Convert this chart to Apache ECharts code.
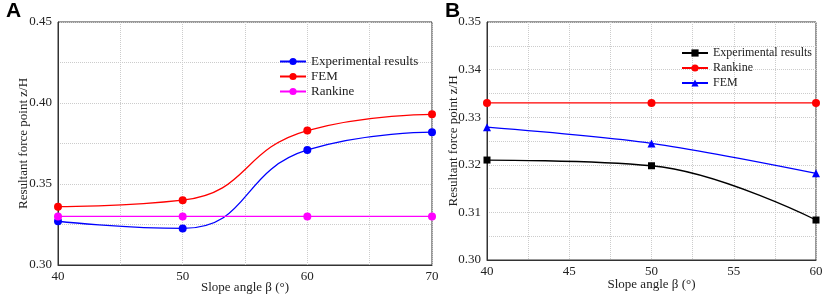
<!DOCTYPE html>
<html>
<head>
<meta charset="utf-8">
<script src="https://cdn.jsdelivr.net/npm/echarts@6/dist/echarts.min.js"></script>
<style>
  html, body { margin: 0; padding: 0; background: #fff; }
  #main { width: 823px; height: 294px; }
</style>
</head>
<body>
<div id="main"></div>
<script>
// panel A
const anglesA = [40, 50, 60, 70]
const expA = [0.327, 0.3226, 0.371, 0.382]
const femA = [0.336, 0.340, 0.383, 0.393]
const rankineA = [0.33, 0.33, 0.33, 0.33]

// panel B
const anglesB = [40, 50, 60]
const expB = [0.321, 0.3198, 0.3084]
const rankineB = [0.333, 0.333, 0.333]
const femB = [0.3279, 0.3245, 0.3182]

const font = 'Liberation Serif'
const pairs = (xs, ys) => xs.map((x, i) => [x, ys[i]])
const isStep = (v, step) => Math.abs(Math.round(v / step) * step - v) < 1e-7

function xAxis(grid, min, max, interval, labelStep, nameGap) {
  return {
    type: 'value', gridIndex: grid, min, max, interval,
    name: 'Slope angle β (°)', nameLocation: 'middle', nameGap, nameMoveOverlap: false,
    nameTextStyle: { fontFamily: font, fontSize: 13, color: '#222' },
    axisLine: { lineStyle: { color: '#333', width: 1 } },
    axisTick: { show: false },
    axisLabel: {
      fontFamily: font, fontSize: 13, color: '#222', margin: 5,
      formatter: v => (isStep(v, labelStep) ? String(Math.round(v)) : '')
    },
    splitLine: { show: true, lineStyle: { color: '#ccc', type: 'dotted' } }
  }
}

function yAxis(grid, min, max, interval, labelStep, nameGap) {
  return {
    type: 'value', gridIndex: grid, min, max, interval,
    name: 'Resultant force point z/H', nameLocation: 'middle', nameGap, nameMoveOverlap: false,
    nameTextStyle: { fontFamily: font, fontSize: 13, color: '#222' },
    axisLine: { show: true, lineStyle: { color: '#333', width: 1 } },
    axisTick: { show: false },
    axisLabel: {
      fontFamily: font, fontSize: 13, color: '#222', margin: 6,
      formatter: v => (isStep(v, labelStep) ? v.toFixed(2) : '')
    },
    splitLine: { show: true, lineStyle: { color: '#ccc', type: 'dotted' } }
  }
}

function line(name, data, color, symbol, axis, smooth) {
  return {
    name, type: 'line', xAxisIndex: axis, yAxisIndex: axis, data,
    smooth, symbol, symbolSize: symbol === 'rect' ? 7 : 8,
    lineStyle: { color, width: 1.3 },
    itemStyle: { color },
    animation: false
  }
}

const legendBase = {
  orient: 'vertical', itemWidth: 26, itemHeight: 9, padding: 0
}

const option = {
  animation: false,
  title: [
    { text: 'A', left: 1, top: -4, textStyle: { fontFamily: 'Liberation Sans', fontWeight: 'bold', fontSize: 21, color: '#000' } },
    { text: 'B', left: 440, top: -4, textStyle: { fontFamily: 'Liberation Sans', fontWeight: 'bold', fontSize: 21, color: '#000' } }
  ],
  grid: [
    { left: 58, top: 22, right: 391, bottom: 29, outerBoundsMode: 'none', show: true, borderColor: '#333', borderWidth: 1 },
    { left: 487, top: 22, right: 7, bottom: 34, outerBoundsMode: 'none', show: true, borderColor: '#333', borderWidth: 1 }
  ],
  legend: [
    Object.assign({ left: 279, top: 55, itemGap: 2, data: ['Experimental results', 'FEM', 'Rankine'],
      textStyle: { fontFamily: font, fontSize: 13, color: '#222' } }, legendBase),
    Object.assign({ left: 681, top: 47, itemGap: 3, data: ['Experimental results ', 'Rankine ', 'FEM '],
      textStyle: { fontFamily: font, fontSize: 12, color: '#222' } }, legendBase)
  ],
  xAxis: [xAxis(0, 40, 70, 5, 10, 16), xAxis(1, 40, 60, 2.5, 5, 18)],
  yAxis: [yAxis(0, 0.3, 0.45, 0.025, 0.05, 28), yAxis(1, 0.3, 0.35, 0.005, 0.01, 27)],
  series: [
    line('Experimental results', pairs(anglesA, expA), '#0000ff', 'circle', 0, 0.5),
    line('FEM', pairs(anglesA, femA), '#ff0000', 'circle', 0, 0.5),
    line('Rankine', pairs(anglesA, rankineA), '#ff00ff', 'circle', 0, false),
    line('Experimental results ', pairs(anglesB, expB), '#000000', 'rect', 1, 0.4),
    line('Rankine ', pairs(anglesB, rankineB), '#ff0000', 'circle', 1, false),
    line('FEM ', pairs(anglesB, femB), '#0000ff', 'triangle', 1, 0.3)
  ]
}

echarts.init(document.getElementById('main')).setOption(option)
</script>
</body>
</html>
